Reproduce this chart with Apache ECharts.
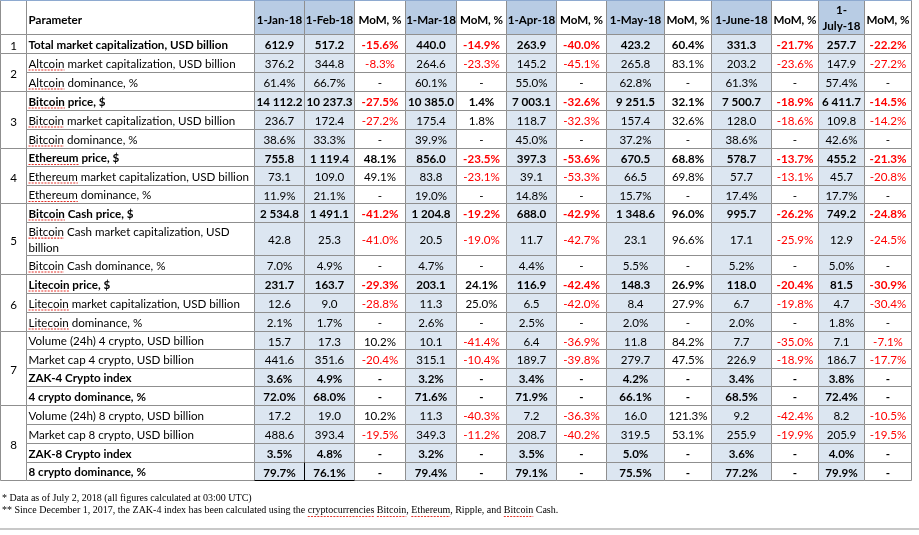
<!DOCTYPE html>
<html>
<head>
<meta charset="utf-8">
<title>Crypto market table</title>
<script src="https://cdn.jsdelivr.net/npm/echarts@6/dist/echarts.min.js"></script>
<style>
html, body { margin: 0; padding: 0; background: #fff; }
#main { width: 919px; height: 535px; }
</style>
</head>
<body>
<div id="main"></div>
<script>

// 表头
var dates = ['1-Jan-18', '1-Feb-18', '1-Mar-18', '1-Apr-18', '1-May-18', '1-June-18', '1-July-18'];
var momTitle = 'MoM, %';
var paramTitle = 'Parameter';

// 分组编号
var groupNums = ['1', '2', '3', '4', '5', '6', '7', '8'];
var groupSizes = [1, 2, 3, 3, 3, 3, 4, 4];

// 参数名
var params = [
	'Total market capitalization, USD billion',
	'Altcoin market capitalization, USD billion',
	'Altcoin dominance, %',
	'Bitcoin price, $',
	'Bitcoin market capitalization, USD billion',
	'Bitcoin dominance, %',
	'Ethereum price, $',
	'Ethereum market capitalization, USD billion',
	'Ethereum dominance, %',
	'Bitcoin Cash price, $',
	'Bitcoin Cash market capitalization, USD\nbillion',
	'Bitcoin Cash dominance, %',
	'Litecoin price, $',
	'Litecoin market capitalization, USD billion',
	'Litecoin dominance, %',
	'Volume (24h) 4 crypto, USD billion',
	'Market cap 4 crypto, USD billion',
	'ZAK-4 Crypto index',
	'4 crypto dominance, %',
	'Volume (24h) 8 crypto, USD billion',
	'Market cap 8 crypto, USD billion',
	'ZAK-8 Crypto index',
	'8 crypto dominance, %'
];
var boldRows = [0, 3, 6, 9, 12, 17, 18, 21, 22];
var pctRows = [2, 5, 8, 11, 14, 17, 18, 21, 22];
var spellWords = ['Altcoin', 'Bitcoin', 'Ethereum', 'Litecoin'];

// 每月数值
var jan = [612.9, 376.2, 61.4, 14112.2, 236.7, 38.6, 755.8, 73.1, 11.9, 2534.8, 42.8, 7.0, 231.7, 12.6, 2.1, 15.7, 441.6, 3.6, 72.0, 17.2, 488.6, 3.5, 79.7];
var feb = [517.2, 344.8, 66.7, 10237.3, 172.4, 33.3, 1119.4, 109.0, 21.1, 1491.1, 25.3, 4.9, 163.7, 9.0, 1.7, 17.3, 351.6, 4.9, 68.0, 19.0, 393.4, 4.8, 76.1];
var mar = [440.0, 264.6, 60.1, 10385.0, 175.4, 39.9, 856.0, 83.8, 19.0, 1204.8, 20.5, 4.7, 203.1, 11.3, 2.6, 10.1, 315.1, 3.2, 71.6, 11.3, 349.3, 3.2, 79.4];
var apr = [263.9, 145.2, 55.0, 7003.1, 118.7, 45.0, 397.3, 39.1, 14.8, 688.0, 11.7, 4.4, 116.9, 6.5, 2.5, 6.4, 189.7, 3.4, 71.9, 7.2, 208.7, 3.5, 79.1];
var may = [423.2, 265.8, 62.8, 9251.5, 157.4, 37.2, 670.5, 66.5, 15.7, 1348.6, 23.1, 5.5, 148.3, 8.4, 2.0, 11.8, 279.7, 4.2, 66.1, 16.0, 319.5, 5.0, 75.5];
var jun = [331.3, 203.2, 61.3, 7500.7, 128.0, 38.6, 578.7, 57.7, 17.4, 995.7, 17.1, 5.2, 118.0, 6.7, 2.0, 7.7, 226.9, 3.4, 68.5, 9.2, 255.9, 3.6, 77.2];
var jul = [257.7, 147.9, 57.4, 6411.7, 109.8, 42.6, 455.2, 45.7, 17.7, 749.2, 12.9, 5.0, 81.5, 4.7, 1.8, 7.1, 186.7, 3.8, 72.4, 8.2, 205.9, 4.0, 79.9];

// 环比 (null = "-")
var momFeb = [-15.6, -8.3, null, -27.5, -27.2, null, 48.1, 49.1, null, -41.2, -41.0, null, -29.3, -28.8, null, 10.2, -20.4, null, null, 10.2, -19.5, null, null];
var momMar = [-14.9, -23.3, null, 1.4, 1.8, null, -23.5, -23.1, null, -19.2, -19.0, null, 24.1, 25.0, null, -41.4, -10.4, null, null, -40.3, -11.2, null, null];
var momApr = [-40.0, -45.1, null, -32.6, -32.3, null, -53.6, -53.3, null, -42.9, -42.7, null, -42.4, -42.0, null, -36.9, -39.8, null, null, -36.3, -40.2, null, null];
var momMay = [60.4, 83.1, null, 32.1, 32.6, null, 68.8, 69.8, null, 96.0, 96.6, null, 26.9, 27.9, null, 84.2, 47.5, null, null, 121.3, 53.1, null, null];
var momJun = [-21.7, -23.6, null, -18.9, -18.6, null, -13.7, -13.1, null, -26.2, -25.9, null, -20.4, -19.8, null, -35.0, -18.9, null, null, -42.4, -19.9, null, null];
var momJul = [-22.2, -27.2, null, -14.5, -14.2, null, -21.3, -20.8, null, -24.8, -24.5, null, -30.9, -30.4, null, -7.1, -17.7, null, null, -10.5, -19.5, null, null];

// 脚注
var notes = [
	'* Data as of July 2, 2018 (all figures calculated at 03:00 UTC)',
	'** Since December 1, 2017, the ZAK-4 index has been calculated using the cryptocurrencies Bitcoin, Ethereum, Ripple, and Bitcoin Cash.'
];
var noteSpell = ['cryptocurrencies', 'Bitcoin', 'Ethereum', 'Bitcoin Cash'];


// ---- 布局 ----
var colX = [0.5, 26.5, 254.5, 304.5, 354.5, 405.5, 456.5, 506.5, 556.5, 606.5, 664.5, 711.5, 771.5, 818.5, 864.5, 911.5];
var rowY = [0.5, 34.5, 53.5, 72.5, 91.5, 110.5, 129.5, 148.5, 166.5, 185.5, 203.5, 222.5, 255.5, 274.5, 293.5, 312.5, 331.5, 349.5, 368.5, 386.5, 405.5, 424.5, 443.5, 462.5, 480.5];
var dateCols = [2, 3, 5, 7, 9, 11, 13];
var momCols = [4, 6, 8, 10, 12, 14];
var dateValues = [jan, feb, mar, apr, may, jun, jul];
var momValues = [momFeb, momMar, momApr, momMay, momJun, momJul];

var headBlue = '#b8cce4';
var cellBlue = '#dce6f1';
var lineGray = '#8f8f8f';
var red = '#ff0000';
var family = 'Lato';
var serif = 'Liberation Serif';

// 量字宽
var ctx = document.createElement('canvas').getContext('2d');
function textWidth(s, font) {
	ctx.font = font;
	return ctx.measureText(s).width;
}
var fs = 12 * 199 / textWidth(params[0], 'bold 12px ' + family);
fs = Math.round(fs * 10) / 10;
var noteFs = 10 * 554 / textWidth(notes[1], '10px "' + serif + '"');
noteFs = Math.round(noteFs * 10) / 10;

function fmtVal(v, pct) {
	var s = v.toFixed(1).split('.');
	var i = s[0].replace(/\B(?=(\d{3})+(?!\d))/g, ' ');
	return i + '.' + s[1] + (pct ? '%' : '');
}
function fmtMom(v) {
	return v == null ? '-' : v.toFixed(1) + '%';
}


// ---- 拼装单元格 ----
var cells = [];
function addCell(c0, c1, r0, r1, o) {
	o.c0 = c0; o.c1 = c1; o.r0 = r0; o.r1 = r1;
	cells.push(o);
}

// 表头
addCell(0, 1, 0, 1, { fill: '#fff' });
addCell(1, 2, 0, 1, { fill: '#fff', text: paramTitle, align: 'left', bold: true, dy: 2.5 });
dates.forEach(function(d, k) {
	var txt = d === '1-July-18' ? '1-\nJuly-18' : d;
	addCell(dateCols[k], dateCols[k] + 1, 0, 1, { fill: headBlue, text: txt, bold: true, dy: txt.indexOf('\n') > 0 ? 0.5 : 2.5, lh: 16 });
});
momCols.forEach(function(c) {
	addCell(c, c + 1, 0, 1, { fill: '#fff', text: momTitle, bold: true, dy: 2.5 });
});

// 编号列
var start = 1;
groupSizes.forEach(function(n, g) {
	addCell(0, 1, start, start + n, { fill: '#fff', text: groupNums[g], dy: 2 });
	start += n;
});

// 数据行
params.forEach(function(p, i) {
	var r = i + 1;
	var bold = boldRows.indexOf(i) >= 0;
	var pct = pctRows.indexOf(i) >= 0;
	var first = p.split(' ')[0];
	addCell(1, 2, r, r + 1, {
		fill: '#fff', text: p, align: 'left', bold: bold, dy: 1, lh: 15.7,
		spell: spellWords.indexOf(first) >= 0 ? first : null
	});
	dateValues.forEach(function(arr, k) {
		addCell(dateCols[k], dateCols[k] + 1, r, r + 1, { fill: cellBlue, text: fmtVal(arr[i], pct), bold: bold, dy: 1.5 });
	});
	momValues.forEach(function(arr, k) {
		var v = arr[i];
		addCell(momCols[k], momCols[k] + 1, r, r + 1, {
			fill: '#fff', text: fmtMom(v), bold: bold, dy: 1.5,
			color: v != null && v < 0 ? red : '#000'
		});
	});
});


function renderCell(param, api) {
	var d = cells[param.dataIndex];
	var p0 = api.coord([colX[d.c0], rowY[d.r0]]);
	var p1 = api.coord([colX[d.c1], rowY[d.r1]]);
	var kids = [{
		type: 'rect',
		shape: { x: p0[0], y: p0[1], width: p1[0] - p0[0], height: p1[1] - p0[1] },
		style: { fill: d.fill, stroke: lineGray, lineWidth: 1 }
	}];
	if (d.text) {
		var left = d.align === 'left';
		var tx = left ? p0[0] + 2 : (p0[0] + p1[0]) / 2;
		var ty = (p0[1] + p1[1]) / 2 + (d.dy || 0);
		var lines = d.text.split('\n').length;
		kids.push({
			type: 'text',
			style: {
				text: d.text, x: tx, y: ty,
				align: left ? 'left' : 'center', verticalAlign: 'middle',
				fontFamily: family, fontSize: fs, fontWeight: d.bold ? 'bold' : 'normal',
				fill: d.color || '#000', lineHeight: d.lh || fs * 1.2
			}
		});
		if (d.spell) {
			var w = textWidth(d.spell, (d.bold ? 'bold ' : '') + fs + 'px ' + family);
			var uy = ty - (lines - 1) * (d.lh / 2) + 6;
			kids.push({
				type: 'line',
				shape: { x1: tx, y1: uy, x2: tx + w, y2: uy },
				style: { stroke: '#e5332a', lineWidth: 1.2, lineDash: [2, 1.2] }
			});
		}
	}
	return { type: 'group', children: kids };
}


// 脚注和装饰线
var graphics = [];
var noteY = [499, 511.5];
notes.forEach(function(t, i) {
	graphics.push({
		type: 'text', left: 2, top: noteY[i] - noteFs * 0.6, z: 10,
		style: { text: t, font: noteFs + 'px "' + serif + '"', fill: '#000' }
	});
});
// 拼写检查下划线
var noteFont = noteFs + 'px "' + serif + '"';
var from = 0;
noteSpell.forEach(function(w) {
	var word = w.split(' ')[0];
	var idx = notes[1].indexOf(w, from);
	from = idx + w.length;
	var x = 2 + textWidth(notes[1].slice(0, idx), noteFont);
	var len = textWidth(word, noteFont);
	graphics.push({
		type: 'line', z: 10,
		shape: { x1: x, y1: noteY[1] + 5, x2: x + len, y2: noteY[1] + 5 },
		style: { stroke: '#e5332a', lineWidth: 1.1, lineDash: [2, 1.2] }
	});
});
graphics.push({
	type: 'line', z: 10,
	shape: { x1: 0, y1: 529, x2: 919, y2: 529 },
	style: { stroke: '#c8c8c8', lineWidth: 2 }
});
graphics.push({
	type: 'line', z: 10,
	shape: { x1: 0.5, y1: 0.5, x2: 911.5, y2: 0.5 },
	style: { stroke: '#8eaad0', lineWidth: 1 }
});
graphics.push({
	type: 'polyline', z: 10,
	shape: { points: [[254.5, 480.5], [354.5, 480.5]] },
	style: { stroke: '#000', lineWidth: 1, fill: null }
});
graphics.push({
	type: 'line', z: 10,
	shape: { x1: 304.5, y1: 462.5, x2: 304.5, y2: 480.5 },
	style: { stroke: '#000', lineWidth: 1 }
});


var myChart = echarts.init(document.getElementById('main'));

var option = {
	animation: false,
	backgroundColor: '#fff',
	grid: { left: 0, right: 0, top: 0, bottom: 0 },
	xAxis: { type: 'value', min: 0, max: 919, show: false },
	yAxis: { type: 'value', min: 0, max: 535, inverse: true, show: false },
	graphic: graphics,
	series: [{
		type: 'custom',
		silent: true,
		clip: false,
		renderItem: renderCell,
		data: cells.map(function(d) { return [d.c0, d.r0]; })
	}]
};

myChart.setOption(option);

</script>
</body>
</html>
